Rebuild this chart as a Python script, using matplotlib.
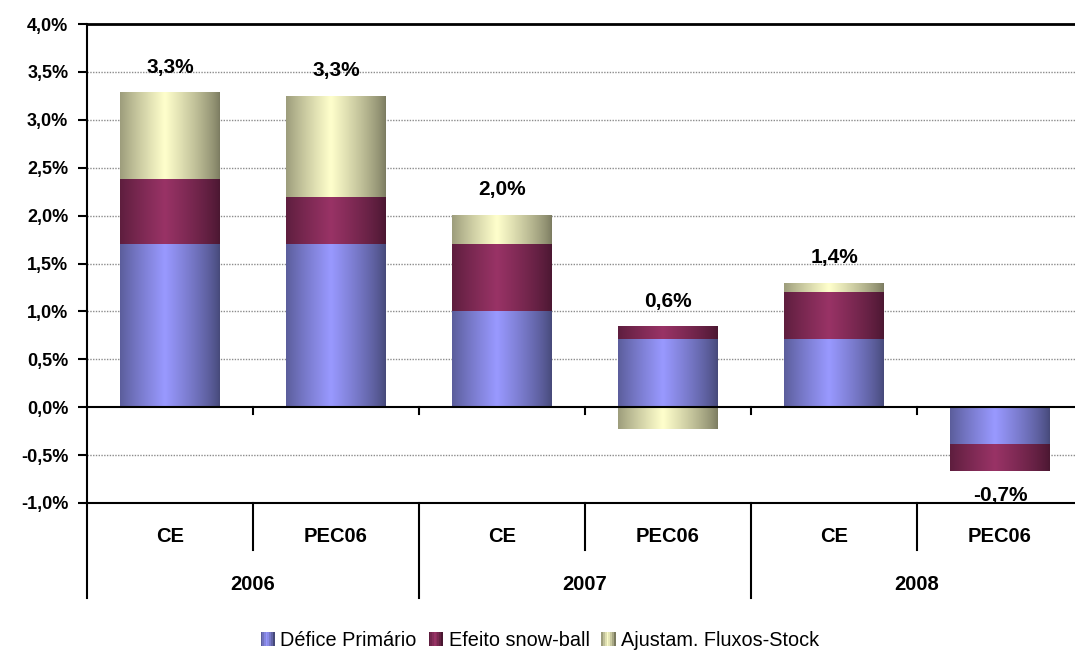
import numpy as np
import matplotlib
matplotlib.use("Agg")
import matplotlib.pyplot as plt
from matplotlib.patches import Rectangle
from matplotlib.legend_handler import HandlerBase
from matplotlib.colors import to_rgb
import matplotlib.transforms as mtransforms

plt.rcParams['font.family'] = ['Liberation Sans', 'DejaVu Sans']

# ---------------- data ----------------
years = ["2006", "2007", "2008"]
scenarios = ["CE", "PEC06", "CE", "PEC06", "CE", "PEC06"]
series_names = ["Défice Primário", "Efeito snow-ball", "Ajustam. Fluxos-Stock"]
defice_primario = [1.70, 1.70, 1.00, 0.71, 0.71, -0.38]
efeito_snowball = [0.68, 0.49, 0.70, 0.135, 0.49, -0.285]
ajust_fluxos = [0.91, 1.06, 0.31, -0.23, 0.10, 0.0]
total_labels = ["3,3%", "3,3%", "2,0%", "0,6%", "1,4%", "-0,7%"]
yticks = [-1.0, -0.5, 0.0, 0.5, 1.0, 1.5, 2.0, 2.5, 3.0, 3.5, 4.0]

light_cols = ["#9999FF", "#993366", "#FFFFCC"]
dark_cols = ["#464979", "#4A1731", "#7B7B60"]

W, H = 1075, 657
fig = plt.figure(figsize=(W / 100, H / 100), dpi=100)
ax_left, ax_right, ax_top, ax_bot = 87, 1083, 24, 503
ax = fig.add_axes([ax_left / W, 1 - ax_bot / H, (ax_right - ax_left) / W, (ax_bot - ax_top) / H])


def gradient(light, dark, n=200):
    t = np.linspace(0, 1, n)
    f = 1 - np.abs(t - 0.45) / 0.55
    f = np.clip(f, 0, 1) ** 0.8
    l = np.array(to_rgb(light)); d = np.array(to_rgb(dark))
    return d[None, :] + (l - d)[None, :] * f[:, None]


x = np.arange(len(scenarios))
pos_base = np.zeros(len(x))
neg_base = np.zeros(len(x))
bar_w = 0.6
all_series = [defice_primario, efeito_snowball, ajust_fluxos]
for vals, lc, dc, name in zip(all_series, light_cols, dark_cols, series_names):
    vals = np.array(vals, dtype=float)
    bottoms = np.where(vals >= 0, pos_base, neg_base)
    bars = ax.bar(x, vals, bar_w, bottom=bottoms, color=lc, edgecolor='none', zorder=2, label=name)
    grad = gradient(lc, dc)
    for p in bars.patches:
        if p.get_height() == 0:
            continue
        x0 = p.get_x(); x1 = x0 + p.get_width()
        y0 = p.get_y(); y1 = y0 + p.get_height()
        im = ax.imshow(grad[None, :, :], extent=(x0, x1, min(y0, y1), max(y0, y1)),
                       aspect='auto', interpolation='bilinear', zorder=3)
        im.set_clip_path(p)
    pos_base = pos_base + np.where(vals > 0, vals, 0)
    neg_base = neg_base + np.where(vals < 0, vals, 0)

ax.set_xlim(-0.5, len(x) - 0.5)
ax.set_ylim(-1.0, 4.0)

# data labels
totals = np.array(defice_primario) + np.array(efeito_snowball) + np.array(ajust_fluxos)
for i, lab in enumerate(total_labels):
    if totals[i] >= 0:
        ax.annotate(lab, (x[i], pos_base[i]), xytext=(0, 18), textcoords='offset points',
                    ha='center', va='center', fontsize=15, fontweight='bold', zorder=5)
    else:
        ax.annotate(lab, (x[i], neg_base[i]), xytext=(0, -18), textcoords='offset points',
                    ha='center', va='center', fontsize=15, fontweight='bold', zorder=5)

# grid
ax.set_yticks(yticks)
ax.set_yticklabels([f"{v:.1f}%".replace('.', ',') for v in yticks], fontsize=13, fontweight='bold')
for v in yticks:
    if v in (0.0, -1.0, 4.0):
        continue
    ax.axhline(v, color='#8c8c8c', lw=1.0, ls=(0, (1, 1)), zorder=1)
ax.axhline(0, color='black', lw=1.5, zorder=4)
ax.axhline(4.0, color='black', lw=2.0, zorder=4, clip_on=False)
ax.axhline(-1.0, color='black', lw=1.5, zorder=4, clip_on=False)

for s in ['top', 'right', 'bottom']:
    ax.spines[s].set_visible(False)
ax.spines['left'].set_linewidth(1.5)
ax.tick_params(axis='y', direction='out', length=6.5, width=1.5, pad=7)
ax.tick_params(axis='x', length=0, labelbottom=False)

# tick marks on zero line at category boundaries
for b in np.arange(0.5, len(x) - 0.5, 1.0):
    disp = ax.transData.transform((b, 0))
    fx, fy = fig.transFigure.inverted().transform(disp)
    fig.add_artist(plt.Line2D([fx, fx], [fy, fy - 7 / H], color='black', lw=1.5))

# category axis below
blend = mtransforms.blended_transform_factory(ax.transData, ax.transAxes)
ax_h = ax_bot - ax_top
for i, s in enumerate(scenarios):
    ax.text(x[i], -(537 - ax_bot) / ax_h, s, transform=blend, ha='center', va='center',
            fontsize=14.5, fontweight='bold')
for j, yr in enumerate(years):
    ax.text(2 * j + 0.5, -(585 - ax_bot) / ax_h, yr, transform=blend, ha='center', va='center',
            fontsize=14.5, fontweight='bold')
short_len = (550 - ax_bot) / ax_h
long_len = (598 - ax_bot) / ax_h
for b in np.arange(0.5, len(x), 1.0):
    L = long_len if int(b - 0.5) % 2 == 1 else short_len
    ax.plot([b, b], [0, -L], transform=blend, color='black', lw=1.5, clip_on=False)
ax.plot([-0.5, -0.5], [0, -long_len], transform=blend, color='black', lw=1.5, clip_on=False)


# legend with gradient swatches
class GradHandler(HandlerBase):
    def __init__(self, light, dark):
        super().__init__()
        self.grad = gradient(light, dark, n=8)

    def create_artists(self, legend, orig_handle, xdescent, ydescent, width, height, fontsize, trans):
        size = height * 1.0
        x0 = -xdescent + width - size
        y0 = -ydescent
        n = len(self.grad)
        arts = []
        for k, c in enumerate(self.grad):
            arts.append(Rectangle((x0 + k * size / n, y0), size / n + 0.3, size,
                                  facecolor=c, edgecolor='none', transform=trans))
        return arts


handles = [Rectangle((0, 0), 1, 1) for _ in series_names]
hmap = {h: GradHandler(l, d) for h, l, d in zip(handles, light_cols, dark_cols)}
fig.legend(handles, series_names, handler_map=hmap, loc='center', bbox_to_anchor=(540 / W, 1 - 640 / H),
           ncol=3, frameon=False, fontsize=14.3, handlelength=0.7, handletextpad=0.3, columnspacing=0.6)

fig.savefig("out.png", dpi=100)
